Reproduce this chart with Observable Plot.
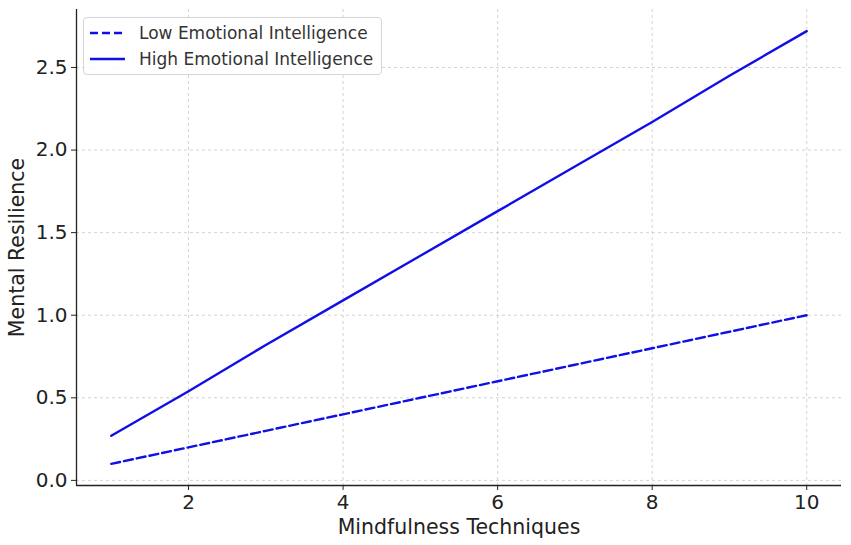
<!DOCTYPE html>
<html>
<head>
<meta charset="utf-8">
<script src="https://cdn.jsdelivr.net/npm/d3@7"></script>
<script src="https://cdn.jsdelivr.net/npm/@observablehq/plot@0.6"></script>
<style>
  html, body { margin: 0; padding: 0; background: #fff; }
  #wrap { position: relative; width: 851px; height: 545px; font-family: "DejaVu Sans", sans-serif; }
  #legend { position: absolute; left: 83px; top: 17px; width: 299px; height: 58px; box-sizing: border-box;
            border: 1px solid #d6d6d6; border-radius: 4px; background: rgba(255,255,255,0.85);
            font-size: 17px; color: #333; }
  .item { position: absolute; left: 5px; display: flex; align-items: center; height: 22px; }
  .item svg { margin-right: 13px; }
</style>
</head>
<body>
<div id="wrap"></div>
<script>
const techniques = [1, 2, 3, 4, 5, 6, 7, 8, 9, 10];
const lowEI = [0.1, 0.2, 0.3, 0.4, 0.5, 0.6, 0.7, 0.8, 0.9, 1.0];
const highEI = [0.27, 0.54, 0.82, 1.09, 1.36, 1.63, 1.90, 2.17, 2.45, 2.72];
const seriesNames = ["Low Emotional Intelligence", "High Emotional Intelligence"];
const xTicks = [2, 4, 6, 8, 10];
const yTicks = [0.0, 0.5, 1.0, 1.5, 2.0, 2.5];

const lowData = techniques.map((x, i) => ({x, y: lowEI[i]}));
const highData = techniques.map((x, i) => ({x, y: highEI[i]}));

const xDomain = [0.55, 10.45];
const yDomain = [-0.031, 2.851];
const color = "#1010e6";

const chart = Plot.plot({
  width: 851,
  height: 545,
  marginLeft: 76,
  marginRight: 10,
  marginTop: 9,
  marginBottom: 60,
  style: {fontFamily: "DejaVu Sans, sans-serif", background: "#fff"},
  x: {domain: xDomain},
  y: {domain: yDomain},
  marks: [
    Plot.gridX(xTicks, {stroke: "#b0b0b0", strokeOpacity: 0.7, strokeDasharray: "3,3", strokeWidth: 0.8}),
    Plot.gridY(yTicks, {stroke: "#b0b0b0", strokeOpacity: 0.7, strokeDasharray: "3,3", strokeWidth: 0.8}),
    Plot.ruleX([xDomain[0]], {stroke: "#222", strokeWidth: 1.3}),
    Plot.ruleY([yDomain[0]], {stroke: "#222", strokeWidth: 1.3}),
    Plot.axisX(xTicks, {tickSize: 5, tickPadding: 4, fontSize: 20, fill: "#222", stroke: "#222",
      label: "Mindfulness Techniques", labelAnchor: "center", labelArrow: "none", labelOffset: 48}),
    Plot.axisY(yTicks, {tickSize: 5, tickPadding: 4, fontSize: 20, fill: "#222", stroke: "#222",
      tickFormat: d3.format(".1f"),
      label: "Mental Resilience", labelAnchor: "center", labelArrow: "none", labelOffset: 67}),
    Plot.line(lowData, {x: "x", y: "y", stroke: color, strokeWidth: 2.4, strokeDasharray: "9,4"}),
    Plot.line(highData, {x: "x", y: "y", stroke: color, strokeWidth: 2.4})
  ]
});

chart.querySelectorAll('[aria-label="x-axis label"] text, [aria-label="y-axis label"] text, [aria-label="x-axis label"], [aria-label="y-axis label"]').forEach(t => {
  t.setAttribute("font-size", "20.5");
  t.style.fontSize = "20.5px";
  t.setAttribute("fill", "#222");
});

const wrap = document.getElementById("wrap");
wrap.appendChild(chart);

const legend = document.createElement("div");
legend.id = "legend";
seriesNames.forEach((name, i) => {
  const item = document.createElement("div");
  item.className = "item";
  item.style.top = (i === 0 ? 4 : 30) + "px";
  item.innerHTML = `<svg width="37" height="20"><line x1="1" x2="36" y1="10" y2="10" stroke="${color}" stroke-width="2.4" ${i === 0 ? 'stroke-dasharray="8,4"' : ''}/></svg><span>${name}</span>`;
  legend.appendChild(item);
});
wrap.appendChild(legend);
</script>
</body>
</html>
